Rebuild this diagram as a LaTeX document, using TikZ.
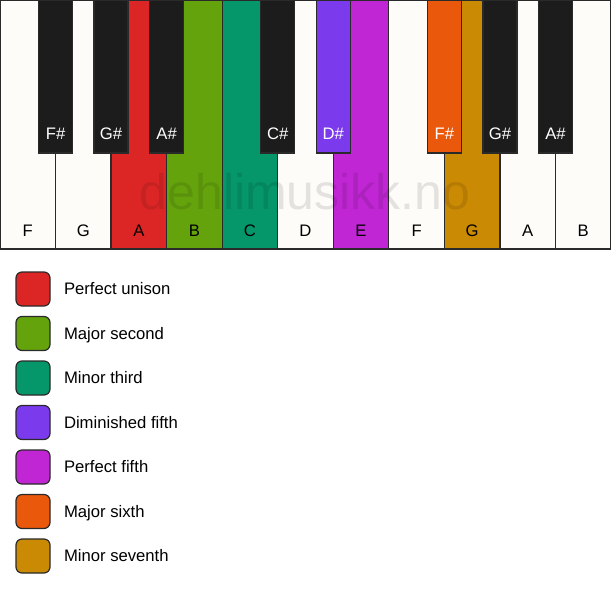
\documentclass[tikz,border=0pt]{standalone}
\usepackage{fontspec}
\setmainfont{Liberation Sans}
\usetikzlibrary{positioning}

\definecolor{keywhite}{HTML}{FDFCF9}
\definecolor{keyblack}{HTML}{1C1C1C}
\definecolor{keyline}{HTML}{2A2A2A}
\definecolor{unisoncol}{HTML}{DC2626}
\definecolor{secondcol}{HTML}{65A30D}
\definecolor{thirdcol}{HTML}{059669}
\definecolor{dimfifthcol}{HTML}{7C3AED}
\definecolor{fifthcol}{HTML}{C026D3}
\definecolor{sixthcol}{HTML}{EA580C}
\definecolor{seventhcol}{HTML}{CA8A04}

\begin{document}
\begin{tikzpicture}[every node/.style={inner sep=0pt,outer sep=0pt},
  whitekey/.style={draw=keyline,line width=0.9pt,fill=keywhite,minimum width=41.66pt,
    text height=177pt,text depth=9.75pt,font=\fontsize{12.5}{15}\selectfont},
  blackkey/.style={draw=keyline,line width=0.9pt,fill=keyblack,text=white,minimum width=25.5pt,
    text height=104.25pt,text depth=10.5pt,anchor=north,font=\fontsize{12.5}{15}\selectfont},
  swatch/.style={draw=keyline,line width=0.9pt,rounded corners=4.5pt,minimum size=25.5pt},
  legend/.style={text height=8.95pt,text depth=0pt,font=\fontsize{12.5}{15}\selectfont}]
\useasboundingbox (0,0) rectangle (458.25pt,-445.5pt);

% white keys
\node (f1) [whitekey,anchor=north west] at (0,0) {F};
\node (g1) [whitekey,right=0pt of f1] {G};
\node (a1) [whitekey,fill=unisoncol,right=0pt of g1] {A};
\node (b1) [whitekey,fill=secondcol,right=0pt of a1] {B};
\node (c1) [whitekey,fill=thirdcol,right=0pt of b1] {C};
\node (d1) [whitekey,right=0pt of c1] {D};
\node (e1) [whitekey,fill=fifthcol,right=0pt of d1] {E};
\node (f2) [whitekey,right=0pt of e1] {F};
\node (g2) [whitekey,fill=seventhcol,right=0pt of f2] {G};
\node (a2) [whitekey,right=0pt of g2] {A};
\node (b2) [whitekey,right=0pt of a2] {B};

% black keys
\node (fs1) [blackkey] at (f1.north east) {F\#};
\node (gs1) [blackkey] at (g1.north east) {G\#};
\node (as1) [blackkey] at (a1.north east) {A\#};
\node (cs1) [blackkey] at (c1.north east) {C\#};
\node (ds1) [blackkey,fill=dimfifthcol] at (d1.north east) {D\#};
\node (fs2) [blackkey,fill=sixthcol] at (f2.north east) {F\#};
\node (gs2) [blackkey] at (g2.north east) {G\#};
\node (as2) [blackkey] at (a2.north east) {A\#};

\node (watermark) [text=black,text opacity=0.1,font=\fontsize{37.5}{40}\selectfont]
  at (228.75pt,-144pt) {dehlimusikk.no};

% legend
\node (unison) [swatch,fill=unisoncol] at (24.75pt,-216.75pt) {};
\node (second) [swatch,fill=secondcol,below=7.875pt of unison] {};
\node (third) [swatch,fill=thirdcol,below=7.875pt of second] {};
\node (dimfifth) [swatch,fill=dimfifthcol,below=7.875pt of third] {};
\node (fifth) [swatch,fill=fifthcol,below=7.875pt of dimfifth] {};
\node (sixth) [swatch,fill=sixthcol,below=7.875pt of fifth] {};
\node (seventh) [swatch,fill=seventhcol,below=7.875pt of sixth] {};

\node (unisontext) [legend,right=10.5pt of unison] {Perfect unison};
\node (secondtext) [legend,right=10.5pt of second] {Major second};
\node (thirdtext) [legend,right=10.5pt of third] {Minor third};
\node (dimfifthtext) [legend,right=10.5pt of dimfifth] {Diminished fifth};
\node (fifthtext) [legend,right=10.5pt of fifth] {Perfect fifth};
\node (sixthtext) [legend,right=10.5pt of sixth] {Major sixth};
\node (seventhtext) [legend,right=10.5pt of seventh] {Minor seventh};
\end{tikzpicture}
\end{document}
